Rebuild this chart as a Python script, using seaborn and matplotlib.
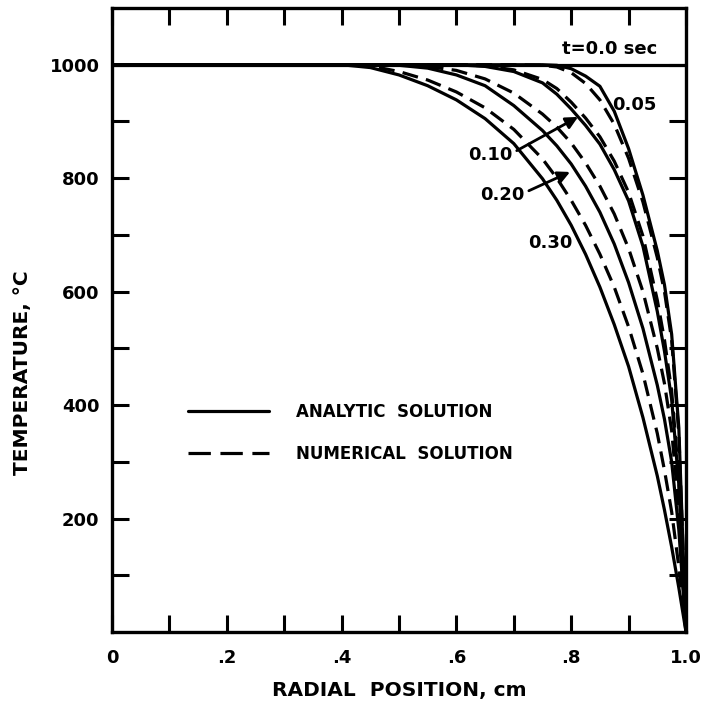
import matplotlib
matplotlib.use("Agg")
import matplotlib.pyplot as plt
import seaborn as sns
import pandas as pd
from matplotlib.lines import Line2D
from matplotlib.ticker import FixedLocator, FixedFormatter

# ---- data ----
radius = [0.0, 0.40, 0.45, 0.50, 0.55, 0.60, 0.65, 0.70, 0.75, 0.775, 0.80, 0.825,
          0.85, 0.875, 0.90, 0.925, 0.95, 0.9625, 0.975, 0.9875, 1.0]

initial_r = [0.0, 1.0]
initial_T = [1000, 1000]

analytic_005 = [1000, 1000, 1000, 1000, 1000, 1000, 1000, 1000, 1000, 999, 993, 980, 962, 918, 852, 770, 672, 612, 525, 360, 0]
numerical_005 = [1000, 1000, 1000, 1000, 1000, 1000, 1000, 1000, 999, 996, 986, 967, 938, 895, 835, 758, 660, 600, 515, 350, 0]
analytic_010 = [1000, 1000, 1000, 1000, 1000, 1000, 997, 988, 968, 948, 922, 893, 860, 815, 760, 680, 565, 495, 410, 260, 0]
numerical_010 = [1000, 1000, 1000, 1000, 1000, 1000, 998, 991, 974, 958, 934, 906, 873, 830, 775, 698, 585, 515, 425, 270, 0]
analytic_020 = [1000, 1000, 1000, 999, 994, 982, 963, 928, 884, 857, 825, 786, 740, 684, 616, 535, 435, 375, 300, 180, 0]
numerical_020 = [1000, 1000, 1000, 1000, 997, 990, 975, 950, 913, 890, 862, 827, 786, 737, 676, 600, 500, 438, 355, 215, 0]
analytic_030 = [1000, 1000, 995, 982, 963, 938, 905, 861, 799, 761, 717, 666, 608, 542, 468, 378, 275, 215, 150, 78, 0]
numerical_030 = [1000, 1000, 998, 988, 973, 952, 924, 886, 834, 800, 761, 717, 666, 608, 538, 455, 350, 285, 212, 115, 0]

x_ticks = [0.0, 0.1, 0.2, 0.3, 0.4, 0.5, 0.6, 0.7, 0.8, 0.9, 1.0]
x_labels = ["0", "", ".2", "", ".4", "", ".6", "", ".8", "", "1.0"]
y_ticks = [100, 200, 300, 400, 500, 600, 700, 800, 900, 1000]
y_labels = ["", "200", "", "400", "", "600", "", "800", "", "1000"]

# ---- long-form table ----
rows = []
for r, T in zip(initial_r, initial_T):
    rows.append(dict(r=r, T=T, curve="t0.00", method="analytic"))
series = {
    ("0.05", "analytic"): analytic_005, ("0.05", "numerical"): numerical_005,
    ("0.10", "analytic"): analytic_010, ("0.10", "numerical"): numerical_010,
    ("0.20", "analytic"): analytic_020, ("0.20", "numerical"): numerical_020,
    ("0.30", "analytic"): analytic_030, ("0.30", "numerical"): numerical_030,
}
for (t, m), vals in series.items():
    for r, T in zip(radius, vals):
        rows.append(dict(r=r, T=T, curve=f"t{t}-{m}", method=m))
df = pd.DataFrame(rows)

sns.set_style("ticks")
plt.rcParams["font.family"] = ["DejaVu Sans"]
plt.rcParams["font.weight"] = "bold"
for key in ["text.color", "axes.labelcolor", "xtick.color", "ytick.color", "axes.edgecolor"]:
    plt.rcParams[key] = "black"

fig = plt.figure(figsize=(7.07, 7.04), dpi=100)
ax = fig.add_axes([112 / 707, 72 / 704, 574 / 707, 624 / 704])

LW = 2.3
sns.lineplot(data=df, x="r", y="T", units="curve", estimator=None, style="method",
             dashes={"analytic": "", "numerical": (5, 2.6)}, color="black",
             linewidth=LW, legend=False, sort=False, ax=ax)

ax.set_xlim(0, 1.0)
ax.set_ylim(0, 1100)

ax.xaxis.set_major_locator(FixedLocator(x_ticks))
ax.xaxis.set_major_formatter(FixedFormatter(x_labels))
ax.yaxis.set_major_locator(FixedLocator(y_ticks))
ax.yaxis.set_major_formatter(FixedFormatter(y_labels))
ax.tick_params(direction="in", length=12, width=2.2, top=True, right=True,
               labelsize=13, colors="black")
ax.tick_params(axis="x", pad=12)
ax.tick_params(axis="y", pad=9)
for lab in ax.get_xticklabels() + ax.get_yticklabels():
    lab.set_fontweight("bold")
for s in ax.spines.values():
    s.set_linewidth(2.4)
    s.set_color("black")

ax.set_xlabel("RADIAL  POSITION, cm", fontsize=14.5, fontweight="bold", labelpad=10)
ax.set_ylabel("TEMPERATURE, °C", fontsize=14.5, fontweight="bold")
ax.yaxis.set_label_coords(-0.140, 0.415)

# annotations
ax.text(0.95, 1012, "t=0.0 sec", ha="right", va="bottom", fontsize=13, fontweight="bold")
ax.text(0.872, 929, "0.05", ha="left", va="center", fontsize=13, fontweight="bold")
ax.text(0.725, 686, "0.30", ha="left", va="center", fontsize=13, fontweight="bold")
arrow = dict(arrowstyle="-|>", lw=2.0, color="black", shrinkA=1, shrinkB=0,
             mutation_scale=18, relpos=(1.0, 0.6))
ax.annotate("0.10", xy=(0.812, 908), xytext=(0.62, 841), ha="left", va="center",
            fontsize=13, fontweight="bold", arrowprops=arrow)
ax.annotate("0.20", xy=(0.798, 811), xytext=(0.641, 771), ha="left", va="center",
            fontsize=13, fontweight="bold", arrowprops=arrow)

handles = [Line2D([], [], color="black", lw=LW),
           Line2D([], [], color="black", lw=LW, dashes=(7, 3))]
leg = ax.legend(handles, ["ANALYTIC  SOLUTION", "NUMERICAL  SOLUTION"],
                loc="upper left", bbox_to_anchor=(0.132, 0.367), frameon=False,
                handlelength=4.9, handletextpad=1.6, labelspacing=1.45,
                borderpad=0, borderaxespad=0, prop=dict(size=12, weight="bold"))

fig.savefig("out.png", dpi=100)
